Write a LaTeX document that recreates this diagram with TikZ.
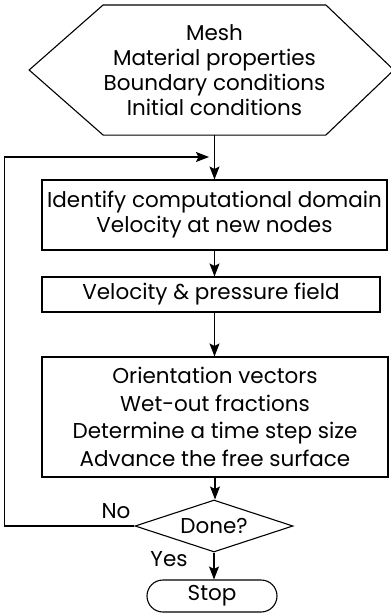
\documentclass[tikz,border=0pt]{standalone}
\usepackage{fontspec}
\setmainfont{Poppins}
\usetikzlibrary{arrows.meta, shapes.geometric, shapes.misc, calc}

\begin{document}
\begin{tikzpicture}[x=1pt, y=-1pt, line width=1.1pt,
    every node/.style={font=\fontsize{21.5}{25}\selectfont},
    stepbox/.style={draw, rectangle, align=center, inner sep=0pt},
    decision/.style={draw, diamond, aspect=3, inner sep=0pt},
    terminal/.style={draw, rounded rectangle, inner sep=0pt},
    flow/.style={-{Stealth[length=13pt, width=10pt, inset=2.5pt]}}]
  \useasboundingbox (0,0) rectangle (391,616);
  % input data
  \node[align=center, minimum width=215pt, minimum height=129pt, inner sep=0pt] (input) at (214.5,70)
    {Mesh\\Material properties\\Boundary conditions\\Initial conditions};
  \draw (input.north west) -- (input.north east) -- ($(input.east)+(68,0)$)
    -- (input.south east) -- (input.south west) -- ($(input.west)+(-74,0)$) -- cycle;
  % loop body
  \node[stepbox, minimum width=345pt, minimum height=70pt] (domain) at (214.5,215)
    {Identify computational domain\\Velocity at new nodes};
  \node[stepbox, minimum width=338pt, minimum height=35pt] (field) at (211,294.5)
    {Velocity \& pressure field};
  \node[stepbox, minimum width=346pt, minimum height=120pt,
        font=\fontsize{21.5}{27.5}\selectfont] (advance) at (215,417)
    {Orientation vectors\\Wet-out fractions\\Determine a time step size\\Advance the free surface};
  % test and end
  \node[decision, minimum width=158pt, minimum height=52pt] (done) at (214,526) {Done?};
  \node[terminal, minimum width=130pt, minimum height=32pt] (stop) at (212,596) {Stop};
  \node (no) at (116,511) {No};
  \node (yes) at (169,559) {Yes};
  \coordinate (merge) at (209,157);
  % connectors
  \draw[flow] (input.south) -- (input.south |- domain.north);
  \draw[flow] (domain.south) -- (domain.south |- field.north);
  \draw[flow] (field.south) ++(3.5,0) coordinate (fs) -- (fs |- advance.north);
  \draw[flow] (advance.south) -- (advance.south |- done.north);
  \draw[flow] (done.south) -- (done.south |- stop.north);
  \draw[flow] (done.west) -- ++(-130,0) |- (merge);
\end{tikzpicture}
\end{document}
